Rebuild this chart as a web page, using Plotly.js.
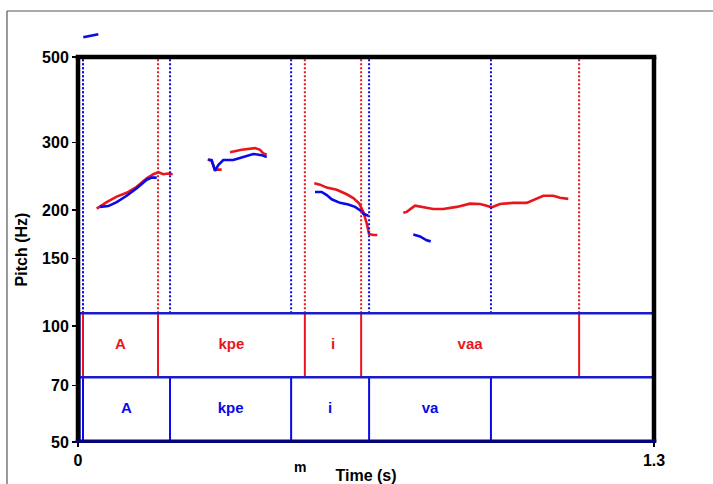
<!DOCTYPE html>
<html><head><meta charset="utf-8">
<script src="https://cdn.plot.ly/plotly-3.0.1.min.js"></script>
<style>html,body{margin:0;padding:0;background:#fff;} #chart{width:713px;height:484px;}</style>
</head><body><div id="chart"></div>
<script>
// ---- pitch contours (time in s, pitch in Hz) ----
const red1T = [0.0422,0.0648,0.0873,0.1099,0.1325,0.1551,0.1700,0.1812,0.1925,0.2038,0.2137];
const red1F = [202,210,217,222,230,242,248,251,248,249,248];
const red2aT = [0.2927,0.3018,0.3085,0.3130,0.3243];
const red2aF = [271,268,256,255,255];
const red2bT = [0.3431,0.3694,0.3995,0.4108,0.4182,0.4259];
const red2bF = [283,287,290,287,281,279];
const red3T = [0.5333,0.5462,0.5613,0.5839,0.6064,0.6213,0.6349,0.6439,0.6516,0.6568,0.6665,0.6755];
const red3F = [235,233,229,226,220,215,208,198,185,173.5,172.5,172.5];
const red4T = [0.7342,0.7419,0.7606,0.7793,0.8019,0.8245,0.8547,0.8847,0.9073,0.9224,0.9337,0.9524,0.9825,1.0127,1.0276,1.0502,1.0727,1.0878,1.1066];
const red4F = [197,198,205.5,204,201.5,201.5,204,208,207.6,205.5,203.5,207.6,209,209,212.6,218,218,215.5,214];

const blueHighT = [0.0120,0.0271,0.0458];
const blueHighF = [563,568,573];
const blue1T = [0.0497,0.0684,0.0873,0.1099,0.1325,0.1551,0.1663,0.1776];
const blue1F = [204,205,210,218,228,240,243,243];
const blue2T = [0.2941,0.3018,0.3092,0.3166,0.3279,0.3505,0.3731,0.3956,0.4146,0.4259];
const blue2F = [271,270,253,262,270,270,275,280,278,275];
const blue3T = [0.5349,0.5500,0.5613,0.5726,0.5913,0.6101,0.6252,0.6365,0.6439,0.6552];
const blue3F = [223,223,219,213.5,209,207,204,200,196,193.5];
const blue4T = [0.7568,0.7719,0.7870,0.7960];
const blue4F = [173,171,167,166];

// ---- annotation tiers ----
const redBounds = [0.0113,0.1806,0.512,0.639,1.131];
const redLabels = ['A','kpe','i','vaa'];
const blueBounds = [0.0113,0.2077,0.481,0.657,0.932];
const blueLabels = ['A','kpe','i','va'];

// ---- axes ----
const xTickVals = [0, 1.3];
const xTickText = ['0', '1.3'];
const yTickVals = [50,70,100,150,200,300,500];
const yTickText = ['50','70','100','150','200','300','500'];

// ---- style constants ----
const RED = '#e8161c', BLUE = '#0a0ae6', BOX = '#1a1ac8';
const X_MAX = 1.3, F_MIN = 50, F_MAX = 500;
const TIER_TOP = 108, TIER_MID = 73.7;
const DOMAIN_TOP = 0.9123;
const FONT = 'Liberation Sans, Arial, sans-serif';

function line(x, y, color, yaxis) {
  return {type:'scatter', mode:'lines', x:x, y:y, yaxis: yaxis || 'y',
          line:{color:color, width:2.6}, hoverinfo:'skip', showlegend:false};
}
const traces = [
  line(red1T, red1F, RED), line(red2aT, red2aF, RED), line(red2bT, red2bF, RED),
  line(red3T, red3F, RED), line(red4T, red4F, RED),
  line(blue1T, blue1F, BLUE), line(blue2T, blue2F, BLUE), line(blue3T, blue3F, BLUE),
  line(blue4T, blue4F, BLUE), line(blueHighT, blueHighF, BLUE, 'y2')
];

function mids(b) {
  const out = [];
  for (let i = 0; i < b.length - 1; i++) out.push((b[i] + b[i+1]) / 2);
  return out;
}
const redMid = Math.sqrt(TIER_TOP * TIER_MID), blueMid = Math.sqrt(TIER_MID * F_MIN);
traces.push({type:'scatter', mode:'text', x: mids(redBounds), y: redLabels.map(() => redMid),
  text: redLabels, textfont:{family:FONT, size:15, color:RED, weight:'bold'}, hoverinfo:'skip', showlegend:false});
traces.push({type:'scatter', mode:'text', x: mids(blueBounds), y: blueLabels.map(() => blueMid),
  text: blueLabels, textfont:{family:FONT, size:15, color:BLUE, weight:'bold'}, hoverinfo:'skip', showlegend:false});

const shapes = [];
// dotted boundary lines in the pitch area
redBounds.forEach(b => shapes.push({type:'line', xref:'x', yref:'y', x0:b, x1:b, y0:TIER_TOP, y1:F_MAX,
  line:{color:RED, width:2, dash:'2px,2px'}, layer:'above'}));
blueBounds.forEach(b => shapes.push({type:'line', xref:'x', yref:'y', x0:b, x1:b, y0:TIER_TOP, y1:F_MAX,
  line:{color:BLUE, width:2, dash:'2px,2px'}, layer:'above'}));
// solid boundaries inside tiers
redBounds.forEach(b => shapes.push({type:'line', xref:'x', yref:'y', x0:b, x1:b, y0:TIER_MID, y1:TIER_TOP,
  line:{color:RED, width:2}, layer:'above'}));
blueBounds.forEach(b => shapes.push({type:'line', xref:'x', yref:'y', x0:b, x1:b, y0:F_MIN, y1:TIER_MID,
  line:{color:BLUE, width:2}, layer:'above'}));
// tier boxes
shapes.push({type:'line', xref:'paper', yref:'y', x0:0, x1:1, y0:TIER_TOP, y1:TIER_TOP, line:{color:BOX, width:2.5}, layer:'above'});
shapes.push({type:'line', xref:'paper', yref:'y', x0:0, x1:1, y0:TIER_MID, y1:TIER_MID, line:{color:BOX, width:2.5}, layer:'above'});
shapes.push({type:'line', xref:'paper', yref:'y', x0:0.003, x1:0.003, y0:F_MIN, y1:TIER_TOP, line:{color:BOX, width:2}, layer:'above'});
// plot frame
shapes.push({type:'line', xref:'paper', yref:'paper', x0:0, x1:0, y0:0, y1:DOMAIN_TOP, line:{color:'#000', width:4.5}, layer:'above'});
shapes.push({type:'line', xref:'paper', yref:'paper', x0:-0.004, x1:1.004, y0:DOMAIN_TOP, y1:DOMAIN_TOP, line:{color:'#000', width:4.5}, layer:'above'});
shapes.push({type:'line', xref:'paper', yref:'paper', x0:1, x1:1, y0:0, y1:DOMAIN_TOP, line:{color:'#000', width:4.5}, layer:'above'});
shapes.push({type:'line', xref:'paper', yref:'paper', x0:-0.004, x1:1.004, y0:0.002, y1:0.002, line:{color:'#05057a', width:3.5}, layer:'above'});
// outer grey picture border
shapes.push({type:'line', xref:'paper', yref:'paper', x0:-0.1233, x1:1.2, y0:1.0213, y1:1.0213, line:{color:'#555', width:1.2}, layer:'above'});
shapes.push({type:'line', xref:'paper', yref:'paper', x0:-0.1233, x1:-0.1233, y0:1.0213, y1:-0.2, line:{color:'#555', width:1.2}, layer:'above'});

const lf = Math.log10(F_MIN), lt = Math.log10(F_MAX);
const layout = {
  width:713, height:484,
  margin:{l:78, r:59, t:20, b:42, pad:0},
  paper_bgcolor:'#fff', plot_bgcolor:'rgba(0,0,0,0)',
  showlegend:false,
  font:{family:FONT, color:'#000'},
  xaxis:{range:[0, X_MAX], tickvals:xTickVals, ticktext:xTickText, showgrid:false, zeroline:false,
         showline:false, ticks:'outside', ticklen:4, tickwidth:1.5, tickcolor:'#000',
         tickfont:{family:FONT, size:16, color:'#000', weight:'bold'},
         title:{text:'Time (s)', font:{family:FONT, size:16, color:'#000', weight:'bold'}, standoff:4}},
  yaxis:{type:'log', range:[lf, lt], domain:[0, DOMAIN_TOP], tickvals:yTickVals, ticktext:yTickText,
         showgrid:false, zeroline:false, showline:false, ticks:'outside', ticklen:5, tickwidth:1.5, tickcolor:'#000',
         tickfont:{family:FONT, size:16, color:'#000', weight:'bold'},
         title:{text:'Pitch (Hz)', font:{family:FONT, size:16, color:'#000', weight:'bold'}, standoff:10}},
  yaxis2:{type:'log', range:[lf, lf + (lt - lf) / DOMAIN_TOP], domain:[0, 1], anchor:'x', visible:false,
          showgrid:false, zeroline:false},
  shapes:shapes,
  annotations:[{text:'m', xref:'x', yref:'paper', x:0.501, y:-0.083, showarrow:false,
                font:{family:FONT, size:14, color:'#000', weight:'bold'}}]
};
Plotly.newPlot('chart', traces, layout, {staticPlot:true, displayModeBar:false});
</script>
</body></html>
